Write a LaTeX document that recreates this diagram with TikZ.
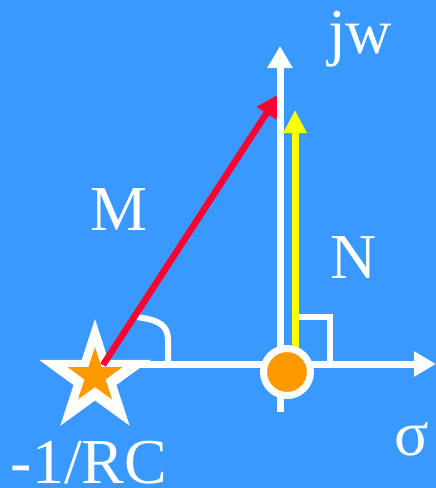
\documentclass[tikz,border=0pt]{standalone}
\usepackage{fontspec}
\setmainfont{Liberation Serif}
\usetikzlibrary{arrows.meta, shapes.geometric}
\definecolor{bgBlue}{HTML}{3A99FF}
\definecolor{mRed}{HTML}{FF0033}
\definecolor{mYellow}{HTML}{FFFF00}
\definecolor{mOrange}{HTML}{FF9900}

\begin{document}
\begin{tikzpicture}[x=1pt, y=-1pt,
      axisline/.style={draw=white, line width=7pt, -{Triangle[length=22pt, width=24pt]}},
      vecline/.style={line width=6.5pt, -{Triangle[length=23pt, width=22pt]}},
      helpline/.style={draw=white, line width=6pt},
      starbox/.style={star, star points=5, star point ratio=2.618, inner sep=0pt},
      lbl/.style={text=white, font=\fontsize{64}{64}\selectfont, anchor=base, inner sep=0pt}]
    % background
    \fill[bgBlue] (0,0) rectangle (436,488);
    \useasboundingbox (0,0) rectangle (436,488);
    % points
    \coordinate (hStart) at (100,364);
    \coordinate (hEnd)   at (436,364);
    \coordinate (vStart) at (280,412);
    \coordinate (vEnd)   at (280,46);
    \coordinate (pole)   at (103,365);
    \coordinate (jwPt)   at (279,94);
    \coordinate (nBase)  at (295,348);
    \coordinate (nTip)   at (295,110);
    % sigma axis
    \draw[axisline] (hStart) -- (hEnd);
    % angle marks
    \draw[helpline] (137,317) .. controls (160,320) and (168,326) .. (168,340) -- (168,362);
    \draw[helpline] (296,317) -- (330,317) -- (330,362);
    % pole at -1/RC
    \node[starbox, fill=white, minimum size=118pt] (starOut) at (95,378) {};
    \node[starbox, fill=mOrange, minimum size=58pt] (starIn) at (95,376) {};
    % M
    \draw[vecline, mRed] (pole) -- (jwPt);
    % jw axis
    \draw[axisline] (vStart) -- (vEnd);
    % N
    \draw[vecline, mYellow, line width=7pt] (nBase) -- (nTip);
    % zero at origin
    \node[circle, draw=white, line width=7pt, fill=mOrange, minimum size=47pt, inner sep=0pt] (zero) at (287,372) {};
    % labels
    \node[lbl] (lblJw)    at (360,53)  {jw};
    \node[lbl] (lblM)     at (119,230) {M};
    \node[lbl] (lblN)     at (354,278) {N};
    \node[lbl] (lblSigma) at (412,455) {σ};
    \node[lbl] (lblPole)  at (89,483)  {-1/RC};
  \end{tikzpicture}
\end{document}
